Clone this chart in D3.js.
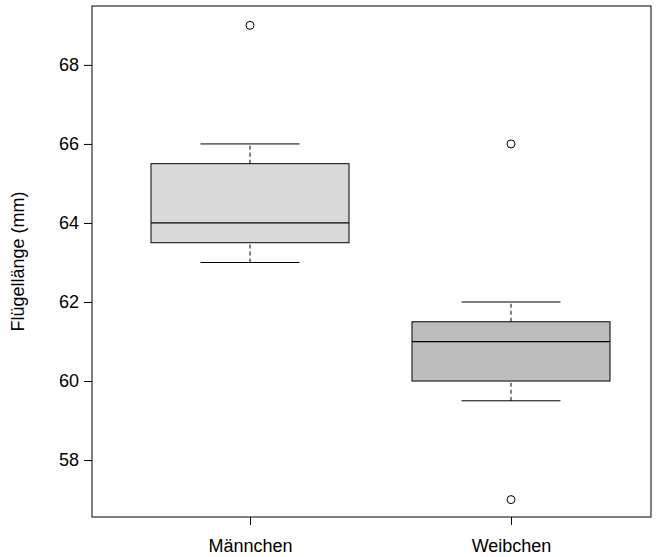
<!DOCTYPE html>
<html><head><meta charset="utf-8">
<script src="https://cdn.jsdelivr.net/npm/d3@7"></script>
<style>body{margin:0;background:#fff}text{font-family:"Liberation Sans",Arial,sans-serif}</style>
</head><body>
<svg id="c" width="663" height="557"></svg>
<script>
// Boxplot data
var groups = ['Männchen', 'Weibchen'];
var whiskerLo = [63, 59.5];
var q1 = [63.5, 60];
var medians = [64, 61];
var q3 = [65.5, 61.5];
var whiskerHi = [66, 62];
var outliers = [[69], [66, 57]];
var fills = ['#d9d9d9', '#bdbdbd'];
var yTicks = [58, 60, 62, 64, 66, 68];

var svg = d3.select('#c');
var mLeft = 92, mRight = 651, mTop = 6, mBottom = 517;

var y = d3.scaleLinear().domain([56.56, 69.49]).range([mBottom, mTop]);
var x = d3.scalePoint().domain(groups).range([250, 511]);
var boxW = 198;

svg.append('rect').attr('x', mLeft).attr('y', mTop)
    .attr('width', mRight - mLeft).attr('height', mBottom - mTop)
    .attr('fill', 'none').attr('stroke', '#000');

var yAxis = svg.append('g').attr('transform', 'translate(' + mLeft + ',0)')
    .call(d3.axisLeft(y).tickValues(yTicks).tickSize(8).tickPadding(5));
yAxis.select('.domain').remove();
yAxis.selectAll('text').attr('font-size', 18).attr('fill', '#000');

var xAxis = svg.append('g').attr('transform', 'translate(0,' + mBottom + ')')
    .call(d3.axisBottom(x).tickSize(8).tickPadding(14));
xAxis.select('.domain').remove();
xAxis.selectAll('text').attr('font-size', 18).attr('fill', '#000');

svg.append('text').attr('transform', 'translate(24,' + ((mTop + mBottom) / 2) + ') rotate(-90)')
    .attr('text-anchor', 'middle').attr('font-size', 18).text('Flügellänge (mm)');

groups.forEach(function(g, i) {
  var cx = x(g);
  var gg = svg.append('g');
  // whiskers
  [[whiskerLo[i], q1[i]], [q3[i], whiskerHi[i]]].forEach(function(w) {
    gg.append('line').attr('x1', cx).attr('x2', cx)
        .attr('y1', y(w[0])).attr('y2', y(w[1]))
        .attr('stroke', '#000').attr('stroke-dasharray', '4,3');
  });
  [whiskerLo[i], whiskerHi[i]].forEach(function(v) {
    gg.append('line').attr('x1', cx - boxW / 4).attr('x2', cx + boxW / 4)
        .attr('y1', y(v)).attr('y2', y(v)).attr('stroke', '#000');
  });
  gg.append('rect').attr('x', cx - boxW / 2).attr('width', boxW)
      .attr('y', y(q3[i])).attr('height', y(q1[i]) - y(q3[i]))
      .attr('fill', fills[i]).attr('stroke', '#000');
  gg.append('line').attr('x1', cx - boxW / 2).attr('x2', cx + boxW / 2)
      .attr('y1', y(medians[i])).attr('y2', y(medians[i]))
      .attr('stroke', '#000').attr('stroke-width', 1.2);
  outliers[i].forEach(function(v) {
    gg.append('circle').attr('cx', cx).attr('cy', y(v)).attr('r', 4)
        .attr('fill', 'none').attr('stroke', '#000');
  });
});
</script>
</body></html>
